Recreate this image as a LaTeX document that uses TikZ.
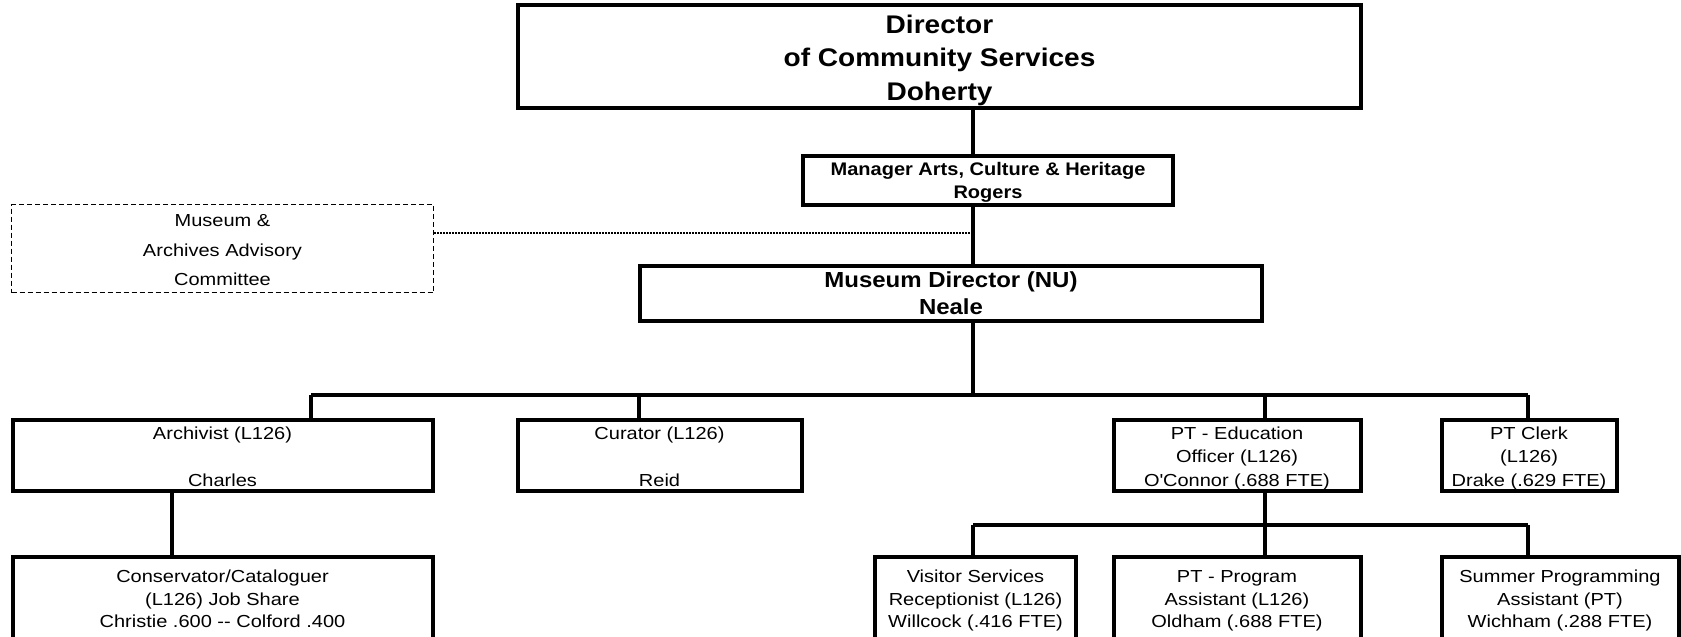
\documentclass[tikz,border=0pt]{standalone}
\usepackage{fontspec}
\setmainfont{Liberation Sans}[FakeStretch=1.15]
\newfontfamily\headfont{Liberation Sans}[FakeStretch=1.1]
\begin{document}
\begin{tikzpicture}[x=1pt,y=-1pt,
  % struts around the stacked lines: the last baseline ends up (#1-#2)/2 below the centre
  textpad/.style 2 args={execute at begin node={\rule{0pt}{#1}},
    execute at end node={\rule[-#2]{0pt}{#2}}},
  box/.style={draw=black, line width=4pt, fill=white, inner sep=0pt, align=center,
    font=\fontsize{17.4}{23.5}\selectfont},
  headbox/.style={box, font=\headfont\bfseries\fontsize{25.5}{33.5}\selectfont, textpad={93pt}{6pt}},
  mgrbox/.style={box, font=\headfont\bfseries\fontsize{18.2}{23.3}\selectfont, textpad={41pt}{5pt}},
  mdirbox/.style={box, font=\headfont\bfseries\fontsize{21.8}{26.8}\selectfont, textpad={46.6pt}{5pt}},
  rowtwo/.style={box, textpad={65.5pt}{4.5pt}},
  rowthree/.style={box, font=\fontsize{17.4}{22.4}\selectfont, textpad={61.8pt}{5pt}},
  advbox/.style={draw=black, line width=1.5pt, dash pattern=on 5pt off 3pt,
    inner sep=0pt, align=center, font=\fontsize{17.4}{29.5}\selectfont, textpad={80.4pt}{6pt}},
  link/.style={draw=black, line width=3.5pt},
  bar/.style={draw=black, line width=4.5pt},
  advlink/.style={draw=black, line width=2.3pt, dash pattern=on 2pt off 1pt}]
\useasboundingbox (0,0) rectangle (1681,637);

% columns and rows of the connector lines
\coordinate (trunk) at (973,0);
\coordinate (c1) at (311,0);
\coordinate (c2) at (639,0);
\coordinate (c3) at (1265,0);
\coordinate (c4) at (1528,0);
\coordinate (c5) at (172,0);
\coordinate (bar1) at (0,395);
\coordinate (bar2) at (0,525);
\coordinate (tap) at (973,233);

% top of the hierarchy
\node[headbox, minimum width=843, minimum height=103] (dir) at (939.5,56.5)
  {Director\\of Community Services\\Doherty};
\node[mgrbox, minimum width=370, minimum height=49] (mgr) at (988,180.5)
  {Manager Arts, Culture \& Heritage\\Rogers};
\node[advbox, minimum width=422, minimum height=88] (adv) at (222.5,248.5)
  {Museum \&\\Archives Advisory\\Committee};
\node[mdirbox, minimum width=622, minimum height=55] (mdir) at (951,293.5)
  {Museum Director (NU)\\Neale};

% second row
\node[rowtwo, minimum width=420, minimum height=71] (arch) at (222.5,455.5)
  {Archivist (L126)\\[23.5pt]Charles};
\node[rowtwo, minimum width=284, minimum height=71] (cur) at (659.5,455.5)
  {Curator (L126)\\[23.5pt]Reid};
\node[rowtwo, minimum width=247, minimum height=71] (edu) at (1237,455.5)
  {PT - Education\\Officer (L126)\\O\textquotesingle Connor (.688 FTE)};
\node[rowtwo, minimum width=175, minimum height=71] (clerk) at (1529,455.5)
  {PT Clerk\\(L126)\\Drake (.629 FTE)};

% third row (runs past the lower edge)
\node[rowthree, minimum width=420, minimum height=84] (cons) at (222.5,599)
  {Conservator/Cataloguer\\(L126) Job Share\\Christie .600 -{}- Colford .400};
\node[rowthree, minimum width=201, minimum height=84] (vis) at (975.5,599)
  {Visitor Services\\Receptionist (L126)\\Willcock (.416 FTE)};
\node[rowthree, minimum width=247, minimum height=84] (prog) at (1237,599)
  {PT - Program\\Assistant (L126)\\Oldham (.688 FTE)};
\node[rowthree, minimum width=237, minimum height=84] (sum) at (1560,599)
  {Summer Programming\\Assistant (PT)\\Wichham (.288 FTE)};

% reporting lines
\draw[link] (dir.south -| trunk) -- (mgr.north -| trunk);
\draw[link] (mgr.south -| trunk) -- (mdir.north -| trunk);
\draw[advlink] (tap) -- (tap -| adv.east);
\draw[link] (mdir.south -| trunk) -- (bar1 -| trunk);
\draw[bar] (bar1 -| c1) -- (bar1 -| c4);
\draw[link] (bar1 -| c1) -- (arch.north -| c1);
\draw[link] (bar1 -| c2) -- (cur.north -| c2);
\draw[link] (bar1 -| c3) -- (edu.north -| c3);
\draw[link] (bar1 -| c4) -- (clerk.north -| c4);
\draw[link] (arch.south -| c5) -- (cons.north -| c5);
\draw[link] (edu.south -| c3) -- (bar2 -| c3);
\draw[bar] (bar2 -| trunk) -- (bar2 -| c4);
\draw[link] (bar2 -| trunk) -- (vis.north -| trunk);
\draw[link] (bar2 -| c3) -- (prog.north -| c3);
\draw[link] (bar2 -| c4) -- (sum.north -| c4);
\end{tikzpicture}
\end{document}
